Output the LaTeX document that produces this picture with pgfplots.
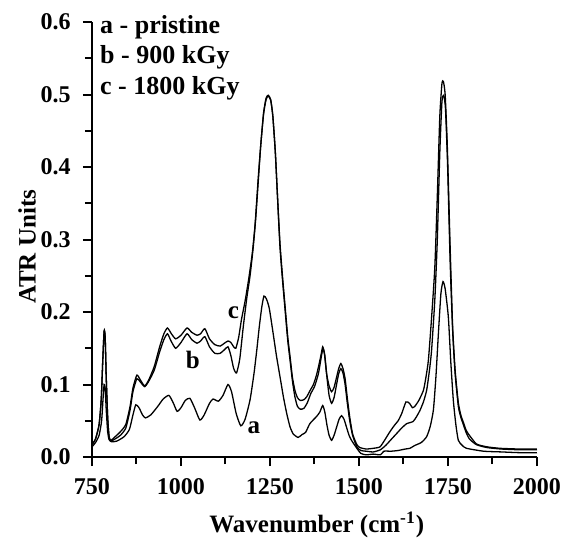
\documentclass[border=0pt]{standalone}
\usepackage{fontspec}
\setmainfont{Liberation Serif}
\usepackage{pgfplots}
\pgfplotsset{compat=1.18}
\pgfplotsset{spec/.style={black, line width=0.65pt, no marks, smooth, tension=0.35}}

\begin{document}
\begin{tikzpicture}
\begin{axis}[
  at={(0,0)}, anchor=south west,
  width=222.5pt, height=217.5pt,
  scale only axis,
  xmin=750, xmax=2000,
  ymin=0, ymax=0.6,
  axis lines=left,
  axis line style={-, line width=1.4pt},
  xtick={750,1000,1250,1500,1750,2000},
  ytick={0,0.1,0.2,0.3,0.4,0.5,0.6},
  minor xtick={875,1125,1375,1625,1875},
  minor ytick={0.05,0.15,0.25,0.35,0.45,0.55},
  tick align=outside,
  major tick length=4.5pt,
  minor tick length=3.5pt,
  tick style={black, line width=1pt},
  minor tick style={black, line width=1pt},
  /pgf/number format/assume math mode=true,
  xticklabel style={/pgf/number format/1000 sep={}, anchor=north, inner sep=0pt},
  yticklabel style={/pgf/number format/fixed, /pgf/number format/fixed zerofill, /pgf/number format/precision=1, anchor=east, inner sep=0pt},
  xticklabel shift=6pt,
  yticklabel shift=6pt,
  tick label style={font=\fontsize{12}{14}\selectfont\bfseries},
  label style={font=\fontsize{12.5}{15}\selectfont\bfseries},
  xlabel={Wavenumber (cm\textsuperscript{-1})},
  ylabel={ATR Units},
  xlabel style={at={(axis description cs:0.505,0)}, anchor=base, yshift=-37.5pt},
  ylabel style={at={(axis description cs:-0.146,0.483)}, anchor=center},
  clip=false,
]
% a - pristine
\addplot[spec] coordinates {
(750,0.014) (760,0.020) (770,0.030) (777,0.050) (781,0.080) (784,0.100) (787,0.095)
(790,0.065) (794,0.035) (798,0.024) (805,0.021) (820,0.022) (840,0.028) (855,0.038)
(865,0.058) (873,0.072) (882,0.068) (892,0.058) (900,0.054) (915,0.058) (935,0.070)
(950,0.080) (966,0.085) (978,0.075) (989,0.063) (1000,0.068) (1012,0.078) (1025,0.081)
(1038,0.068) (1053,0.051) (1065,0.058) (1080,0.074) (1090,0.080) (1105,0.077) (1118,0.085)
(1132,0.100) (1142,0.090) (1155,0.060) (1168,0.043) (1180,0.052) (1194,0.079) (1205,0.115)
(1213,0.148) (1220,0.180) (1227,0.207) (1233,0.222) (1240,0.218) (1248,0.205) (1259,0.170)
(1268,0.140) (1278,0.111) (1288,0.082) (1297,0.060) (1306,0.042) (1315,0.032) (1329,0.027)
(1340,0.031) (1350,0.034) (1362,0.046) (1381,0.056) (1390,0.062) (1398,0.071) (1404,0.062)
(1410,0.044) (1416,0.030) (1423,0.023) (1430,0.030) (1437,0.041) (1444,0.052) (1451,0.057)
(1458,0.052) (1465,0.041) (1472,0.030) (1479,0.023) (1494,0.012) (1505,0.005) (1520,0.003)
(1540,0.004) (1560,0.003) (1570,0.008) (1590,0.008) (1610,0.009) (1630,0.011) (1643,0.012)
(1657,0.016) (1675,0.020) (1690,0.028) (1700,0.042) (1709,0.065) (1716,0.110) (1723,0.170)
(1730,0.225) (1736,0.242) (1742,0.232) (1751,0.193) (1758,0.130) (1765,0.078) (1772,0.045)
(1779,0.023) (1790,0.016) (1802,0.012) (1850,0.008) (1900,0.007) (1950,0.006) (2000,0.006)
};
% b - 900 kGy
\addplot[spec] coordinates {
(750,0.017) (760,0.025) (770,0.045) (776,0.080) (780,0.130) (784,0.173) (787,0.165)
(790,0.110) (794,0.055) (798,0.028) (803,0.022) (815,0.025) (830,0.030) (845,0.040)
(857,0.065) (865,0.090) (876,0.108) (885,0.104) (898,0.097) (910,0.105) (925,0.120)
(940,0.145) (952,0.162) (962,0.170) (972,0.160) (985,0.150) (1000,0.158) (1017,0.170)
(1030,0.162) (1045,0.157) (1055,0.160) (1067,0.166) (1080,0.152) (1095,0.143) (1110,0.143)
(1122,0.148) (1132,0.152) (1140,0.140) (1148,0.122) (1156,0.116) (1165,0.135) (1175,0.180)
(1185,0.220) (1194,0.250) (1203,0.290) (1210,0.330) (1217,0.380) (1224,0.430) (1232,0.473)
(1239,0.493) (1245,0.498) (1252,0.492) (1258,0.470) (1265,0.420) (1271,0.360) (1278,0.290)
(1285,0.245) (1292,0.205) (1300,0.160) (1306,0.135) (1313,0.105) (1320,0.083) (1327,0.070)
(1335,0.066) (1345,0.067) (1355,0.075) (1365,0.088) (1375,0.097) (1386,0.115) (1393,0.135)
(1399,0.150) (1404,0.140) (1410,0.110) (1416,0.085) (1423,0.074) (1430,0.082) (1437,0.100)
(1443,0.115) (1449,0.122) (1455,0.116) (1461,0.100) (1467,0.075) (1474,0.050) (1482,0.030)
(1494,0.014) (1505,0.009) (1520,0.008) (1540,0.007) (1560,0.010) (1575,0.016) (1590,0.024)
(1605,0.032) (1620,0.040) (1634,0.046) (1652,0.049) (1662,0.056) (1671,0.064) (1681,0.076)
(1690,0.092) (1698,0.120) (1704,0.148) (1713,0.217) (1720,0.300) (1727,0.420) (1733,0.490)
(1738,0.499) (1743,0.480) (1749,0.400) (1756,0.270) (1763,0.175) (1770,0.115) (1779,0.070)
(1786,0.055) (1793,0.045) (1800,0.035) (1810,0.025) (1830,0.017) (1860,0.013) (1900,0.011)
(1950,0.010) (2000,0.010)
};
% c - 1800 kGy
\addplot[spec] coordinates {
(750,0.017) (760,0.025) (770,0.045) (776,0.080) (780,0.130) (784,0.174) (787,0.166)
(790,0.110) (794,0.055) (798,0.028) (803,0.023) (815,0.028) (830,0.035) (845,0.045)
(857,0.070) (865,0.095) (876,0.113) (885,0.107) (898,0.098) (910,0.107) (925,0.125)
(940,0.152) (952,0.170) (962,0.178) (973,0.170) (985,0.163) (1000,0.168) (1017,0.178)
(1030,0.172) (1045,0.168) (1055,0.170) (1067,0.177) (1080,0.163) (1095,0.155) (1110,0.153)
(1122,0.157) (1132,0.160) (1140,0.158) (1148,0.152) (1154,0.150) (1162,0.165) (1170,0.190)
(1180,0.215) (1190,0.245) (1200,0.280) (1208,0.320) (1217,0.385) (1224,0.430) (1232,0.475)
(1239,0.495) (1245,0.499) (1252,0.493) (1258,0.470) (1265,0.420) (1271,0.360) (1278,0.295)
(1285,0.250) (1292,0.210) (1300,0.165) (1306,0.140) (1313,0.110) (1320,0.092) (1327,0.082)
(1335,0.078) (1345,0.079) (1353,0.083) (1364,0.093) (1372,0.100) (1380,0.112) (1386,0.124)
(1393,0.140) (1398,0.152) (1403,0.142) (1409,0.115) (1416,0.098) (1423,0.090) (1430,0.096)
(1437,0.110) (1443,0.122) (1449,0.129) (1455,0.122) (1461,0.108) (1467,0.082) (1474,0.055)
(1482,0.032) (1494,0.017) (1503,0.013) (1520,0.011) (1540,0.012) (1559,0.014) (1573,0.024)
(1587,0.035) (1600,0.044) (1610,0.050) (1620,0.060) (1632,0.076) (1642,0.074) (1650,0.068)
(1657,0.070) (1668,0.078) (1681,0.092) (1688,0.110) (1695,0.134) (1704,0.193) (1713,0.262)
(1720,0.360) (1727,0.470) (1733,0.515) (1737,0.518) (1742,0.500) (1748,0.430) (1756,0.290)
(1763,0.180) (1770,0.120) (1779,0.075) (1786,0.058) (1793,0.048) (1800,0.038) (1807,0.032)
(1830,0.018) (1860,0.014) (1896,0.012) (1950,0.011) (2000,0.011)
};
\node[font=\fontsize{12.5}{15}\selectfont\bfseries] at (axis cs:1205,0.040) {a};
\node[font=\fontsize{12.5}{15}\selectfont\bfseries] at (axis cs:1033,0.134) {b};
\node[font=\fontsize{12.5}{15}\selectfont\bfseries] at (axis cs:1147,0.199) {c};
\node[anchor=west, inner sep=0pt, font=\fontsize{13}{15}\selectfont\bfseries] at (axis cs:772,0.593) {a - pristine};
\node[anchor=west, inner sep=0pt, font=\fontsize{13}{15}\selectfont\bfseries] at (axis cs:772,0.551) {b - 900 kGy};
\node[anchor=west, inner sep=0pt, font=\fontsize{13}{15}\selectfont\bfseries] at (axis cs:772,0.509) {c - 1800 kGy};
\end{axis}
\pgfresetboundingbox
\path (-46pt,-40.5pt) rectangle (236pt,228.5pt);
\end{tikzpicture}
\end{document}
